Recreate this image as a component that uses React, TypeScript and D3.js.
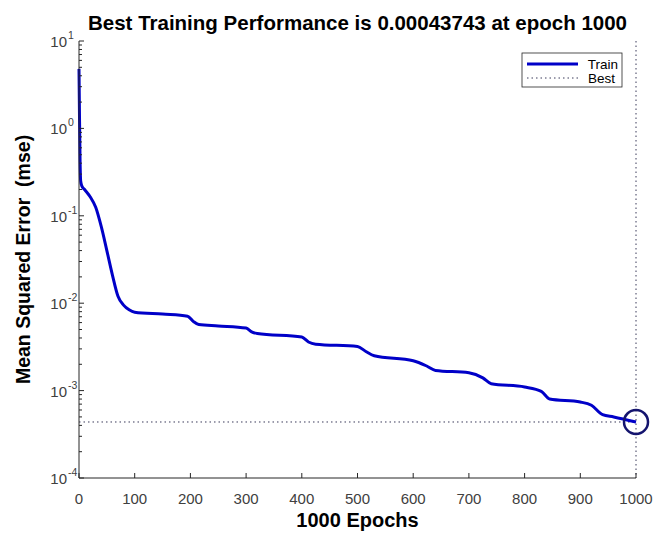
import * as d3 from "d3";

// training curve (epoch, mse)
const epochs = [
  0, 1, 2, 3, 5, 10, 20, 30, 40, 50, 60, 70, 80, 90, 100, 150, 195, 205, 215,
  250, 300, 310, 320, 400, 412, 425, 500, 515, 530, 600, 625, 640, 700, 725,
  740, 800, 830, 845, 900, 920, 940, 960, 1000,
];
const mse = [
  4.8, 1.2, 0.4, 0.25, 0.22, 0.2, 0.165, 0.125, 0.075, 0.04, 0.021, 0.012,
  0.0095, 0.0084, 0.0079, 0.0075, 0.0071, 0.0062, 0.0057, 0.0055, 0.0052,
  0.0047, 0.0045, 0.0041, 0.0036, 0.0034, 0.0032, 0.0028, 0.0025, 0.0022,
  0.0019, 0.0017, 0.0016, 0.0014, 0.0012, 0.0011, 0.00098, 0.0008, 0.00074,
  0.00068, 0.00053, 0.0005, 0.00043743,
];
const xTicks = [0, 100, 200, 300, 400, 500, 600, 700, 800, 900, 1000];
const yExponents = [-4, -3, -2, -1, 0, 1];
const bestEpoch = 1000;
const bestPerf = 0.00043743;

const W = 655;
const H = 533;
const left = 79;
const right = 636;
const top = 41;
const bottom = 478;
const font = "'Liberation Sans', Arial, Helvetica, sans-serif";
const axisColor = "#262626";
const tickText = "#404040";
const lineBlue = "#0000c8";
const bestColor = "#3a3a5a";

export default function App() {
  const x = d3.scaleLinear().domain([0, 1000]).range([left, right]);
  const y = d3.scaleLog().domain([1e-4, 10]).range([bottom, top]);

  const pts = epochs.map((e, i) => [e, mse[i]] as [number, number]);
  const line = d3
    .line<[number, number]>()
    .x((d) => x(d[0]))
    .y((d) => y(d[1]))
    .curve(d3.curveMonotoneX);

  // minor log ticks 2..9 in each decade
  const minor: number[] = [];
  yExponents.slice(0, -1).forEach((p) => {
    for (let k = 2; k <= 9; k++) minor.push(k * Math.pow(10, p));
  });

  return (
    <div style={{ position: "absolute", left: 0, top: 0 }}>
      <svg width={W} height={H} style={{ display: "block", background: "#fff" }}>
        <text
          x={(left + right) / 2}
          y={30}
          textAnchor="middle"
          fontFamily={font}
          fontWeight="bold"
          fontSize={20.5}
          fill="#000"
        >
          Best Training Performance is {bestPerf} at epoch {bestEpoch}
        </text>

        {/* best lines */}
        <line
          x1={left}
          x2={x(bestEpoch)}
          y1={y(bestPerf)}
          y2={y(bestPerf)}
          stroke={bestColor}
          strokeWidth={1}
          strokeDasharray="1.5,3"
        />
        <line
          x1={x(bestEpoch)}
          x2={x(bestEpoch)}
          y1={top}
          y2={bottom}
          stroke={bestColor}
          strokeWidth={1}
          strokeDasharray="1.5,3"
        />

        {/* train curve */}
        <path
          d={line(pts) ?? ""}
          fill="none"
          stroke={lineBlue}
          strokeWidth={3}
          strokeLinejoin="round"
        />
        <circle
          cx={x(bestEpoch)}
          cy={y(bestPerf)}
          r={12}
          fill="none"
          stroke="#14146e"
          strokeWidth={2.5}
        />

        {/* axes */}
        <line x1={left} x2={left} y1={top} y2={bottom} stroke={axisColor} strokeWidth={1} />
        <line x1={left} x2={right} y1={bottom} y2={bottom} stroke={axisColor} strokeWidth={1} />
        {yExponents.map((p) => (
          <g key={p}>
            <line
              x1={left}
              x2={left + 5}
              y1={y(Math.pow(10, p))}
              y2={y(Math.pow(10, p))}
              stroke={axisColor}
            />
            <text
              x={67}
              y={y(Math.pow(10, p)) + 6}
              textAnchor="end"
              fontFamily={font}
              fontSize={15}
              fill={tickText}
            >
              10
            </text>
            <text
              x={68}
              y={y(Math.pow(10, p)) - 2}
              fontFamily={font}
              fontSize={10.5}
              fill={tickText}
            >
              {p < 0 ? `-${-p}` : p}
            </text>
          </g>
        ))}
        {minor.map((v) => (
          <line
            key={v}
            x1={left}
            x2={left + 3}
            y1={y(v)}
            y2={y(v)}
            stroke={axisColor}
          />
        ))}
        {xTicks.map((t) => (
          <g key={t}>
            <line x1={x(t)} x2={x(t)} y1={bottom} y2={bottom - 5} stroke={axisColor} />
            <text
              x={x(t)}
              y={504}
              textAnchor="middle"
              fontFamily={font}
              fontSize={15}
              fill={tickText}
            >
              {t}
            </text>
          </g>
        ))}

        <text
          x={(left + right) / 2}
          y={527}
          textAnchor="middle"
          fontFamily={font}
          fontWeight="bold"
          fontSize={20}
          fill="#000"
        >
          1000 Epochs
        </text>
        <text
          transform={`translate(30,${(top + bottom) / 2}) rotate(-90)`}
          textAnchor="middle"
          fontFamily={font}
          fontWeight="bold"
          fontSize={19.5}
          fill="#000"
          style={{ whiteSpace: "pre" }}
        >
          Mean Squared Error  (mse)
        </text>

        {/* legend */}
        <rect x={522} y={53} width={100} height={34} fill="#fff" stroke={axisColor} strokeWidth={0.8} />
        <line x1={527} x2={578} y1={64} y2={64} stroke={lineBlue} strokeWidth={3} />
        <text x={618} y={69} textAnchor="end" fontFamily={font} fontSize={13.5} fill="#000">
          Train
        </text>
        <line
          x1={527}
          x2={578}
          y1={78}
          y2={78}
          stroke={bestColor}
          strokeWidth={1}
          strokeDasharray="1.5,3"
        />
        <text x={615} y={83} textAnchor="end" fontFamily={font} fontSize={13.5} fill="#000">
          Best
        </text>
      </svg>
    </div>
  );
}
